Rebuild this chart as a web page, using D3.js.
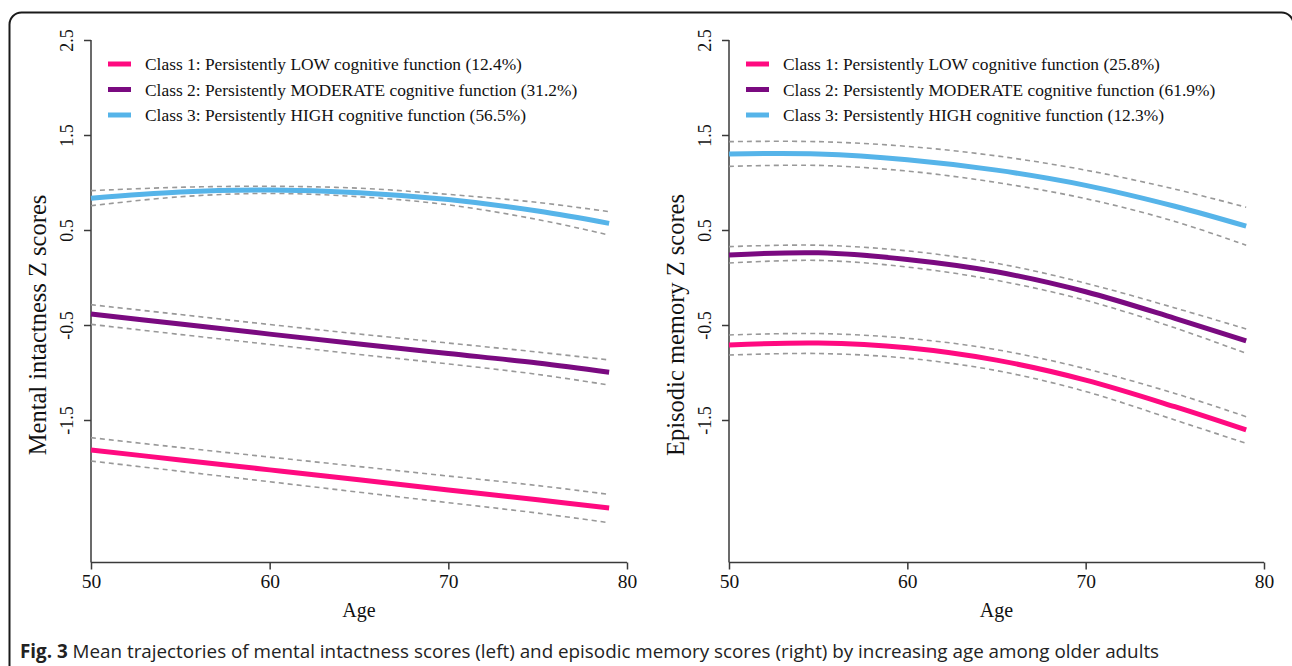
<!DOCTYPE html>
<html>
<head>
<meta charset="utf-8">
<script src="https://cdn.jsdelivr.net/npm/d3@7"></script>
<style>
  html, body { margin: 0; padding: 0; background: #fff; }
  svg { display: block; }
</style>
</head>
<body>
<svg id="chart" width="1292" height="666"></svg>
<script>
// ---------- data ----------
const ages = [50, 55, 60, 65, 70, 75, 79];
const xTicks = [50, 60, 70, 80];
const yTicks = [2.5, 1.5, 0.5, -0.5, -1.5];
const classNames = ["Class 1: Persistently LOW cognitive function",
                    "Class 2: Persistently MODERATE cognitive function",
                    "Class 3: Persistently HIGH cognitive function"];

// Left panel: mental intactness
const mentalShares = ["12.4%", "31.2%", "56.5%"];
const mentalLowMean  = [-1.816, -1.92, -2.025, -2.13, -2.237, -2.34, -2.426];
const mentalLowUpper = [-1.686, -1.79, -1.89, -1.99, -2.09, -2.19, -2.283];
const mentalLowLower = [-1.932, -2.04, -2.15, -2.26, -2.37, -2.48, -2.581];
const mentalModMean  = [-0.384, -0.49, -0.596, -0.70, -0.80, -0.90, -0.998];
const mentalModUpper = [-0.286, -0.39, -0.495, -0.595, -0.69, -0.785, -0.868];
const mentalModLower = [-0.493, -0.60, -0.705, -0.81, -0.91, -1.02, -1.132];
const mentalHighMean  = [0.834, 0.900, 0.920, 0.893, 0.820, 0.700, 0.570];
const mentalHighUpper = [0.914, 0.950, 0.960, 0.940, 0.875, 0.790, 0.693];
const mentalHighLower = [0.756, 0.850, 0.885, 0.850, 0.765, 0.610, 0.447];

// Right panel: episodic memory
const memoryShares = ["25.8%", "61.9%", "12.3%"];
const memoryLowMean  = [-0.711, -0.69, -0.74, -0.87, -1.08, -1.36, -1.605];
const memoryLowUpper = [-0.605, -0.59, -0.64, -0.76, -0.96, -1.22, -1.465];
const memoryLowLower = [-0.816, -0.80, -0.85, -0.98, -1.20, -1.50, -1.746];
const memoryModMean  = [0.237, 0.26, 0.19, 0.06, -0.15, -0.43, -0.668];
const memoryModUpper = [0.325, 0.34, 0.28, 0.15, -0.06, -0.32, -0.542];
const memoryModLower = [0.153, 0.18, 0.11, -0.03, -0.24, -0.53, -0.798];
const memoryHighMean  = [1.30, 1.30, 1.24, 1.13, 0.97, 0.75, 0.54];
const memoryHighUpper = [1.43, 1.43, 1.38, 1.28, 1.13, 0.93, 0.74];
const memoryHighLower = [1.17, 1.18, 1.12, 1.00, 0.83, 0.59, 0.34];

const colors = ["#ff0a80", "#7a0a80", "#56b4e9"];

const panels = [
  { left: 91, right: 627, title: "Mental intactness Z scores", shares: mentalShares,
    series: [[mentalLowMean, mentalLowUpper, mentalLowLower],
             [mentalModMean, mentalModUpper, mentalModLower],
             [mentalHighMean, mentalHighUpper, mentalHighLower]] },
  { left: 729, right: 1264, title: "Episodic memory Z scores", shares: memoryShares,
    series: [[memoryLowMean, memoryLowUpper, memoryLowLower],
             [memoryModMean, memoryModUpper, memoryModLower],
             [memoryHighMean, memoryHighUpper, memoryHighLower]] }
];

const svg = d3.select("#chart");
const plotTop = 40, plotBottom = 562.5;
const serif = "'Liberation Serif', 'Times New Roman', serif";
const axisColor = "#3a3a3a";
const fmtY = d => d3.format(".1f")(d).replace("\u2212", "-");

// frame
svg.append("rect")
  .attr("x", 9.5).attr("y", 12.5).attr("width", 1284).attr("height", 690)
  .attr("rx", 12).attr("ry", 12)
  .attr("fill", "none").attr("stroke", "#1a1a1a").attr("stroke-width", 2);

panels.forEach(p => {
  const x = d3.scaleLinear().domain([50, 80]).range([p.left, p.right]);
  const y = d3.scaleLinear().domain([-3, 2.5]).range([plotBottom, plotTop]);
  const g = svg.append("g");

  // y axis
  const yAxis = d3.axisLeft(y).tickValues(yTicks).tickSize(7).tickPadding(6)
    .tickFormat(fmtY);
  const ya = g.append("g").attr("transform", `translate(${p.left},0)`).call(yAxis);
  ya.select(".domain").attr("d", `M0,${plotTop}V${plotBottom}`)
    .attr("stroke", axisColor).attr("stroke-width", 1.5);
  ya.selectAll(".tick line").attr("stroke", axisColor).attr("stroke-width", 1.5);
  ya.selectAll(".tick text")
    .attr("x", null)
    .attr("transform", "translate(-24,0) rotate(-90)")
    .attr("text-anchor", "middle").attr("dy", "0.35em")
    .attr("font-family", serif).attr("font-size", 18).attr("fill", "#111");

  // x axis
  const xAxis = d3.axisBottom(x).tickValues(xTicks).tickSize(7).tickPadding(5)
    .tickFormat(d3.format("d"));
  const xa = g.append("g").attr("transform", `translate(0,${plotBottom})`).call(xAxis);
  xa.select(".domain").attr("d", `M${p.left},0H${p.right}`)
    .attr("stroke", axisColor).attr("stroke-width", 1.5);
  xa.selectAll(".tick line").attr("stroke", axisColor).attr("stroke-width", 1.5);
  xa.selectAll(".tick text").attr("font-family", serif).attr("font-size", 19.5).attr("fill", "#111");

  // axis titles
  g.append("text")
    .attr("x", (p.left + p.right) / 2).attr("y", 617)
    .attr("text-anchor", "middle").attr("font-family", serif).attr("font-size", 20)
    .attr("fill", "#111").text("Age");
  g.append("text")
    .attr("transform", `translate(${p.left - 54},325) rotate(-90)`)
    .attr("text-anchor", "middle").attr("dy", "0.35em")
    .attr("font-family", serif).attr("font-size", 24.5).attr("fill", "#111").text(p.title);

  const line = d3.line()
    .x((d, i) => x(ages[i]))
    .y(d => y(d))
    .curve(d3.curveCatmullRom.alpha(0.5));

  p.series.forEach((s, k) => {
    [s[1], s[2]].forEach(b => {
      g.append("path").datum(b).attr("d", line)
        .attr("fill", "none").attr("stroke", "#999").attr("stroke-width", 1.6)
        .attr("stroke-dasharray", "5,4");
    });
    g.append("path").datum(s[0]).attr("d", line)
      .attr("fill", "none").attr("stroke", colors[k]).attr("stroke-width", 5);
  });

  // legend
  const legendY = [64, 89.5, 115];
  classNames.forEach((name, k) => {
    g.append("line")
      .attr("x1", p.left + 17).attr("x2", p.left + 40)
      .attr("y1", legendY[k]).attr("y2", legendY[k])
      .attr("stroke", colors[k]).attr("stroke-width", 5);
    g.append("text")
      .attr("x", p.left + 54).attr("y", legendY[k]).attr("dy", "0.35em")
      .attr("font-family", serif).attr("font-size", 17.4).attr("fill", "#111")
      .text(`${name} (${p.shares[k]})`);
  });
});

// caption
const cap = svg.append("text").attr("x", 20).attr("y", 658)
  .attr("font-family", "'Open Sans', 'Noto Sans', sans-serif").attr("font-size", 17).attr("fill", "#222");
cap.append("tspan").attr("font-weight", "bold").text("Fig. 3");
cap.append("tspan").text(" Mean trajectories of mental intactness scores (left) and episodic memory scores (right) by increasing age among older adults");
const w = cap.node().getComputedTextLength();
cap.attr("font-size", 17 * 1140 / w);
</script>
</body>
</html>
